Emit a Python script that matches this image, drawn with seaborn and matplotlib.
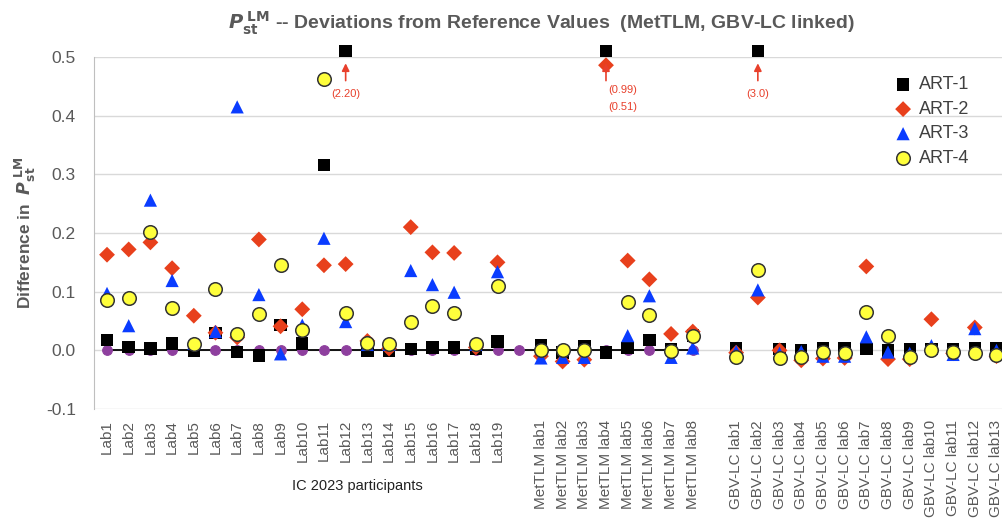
import numpy as np
import pandas as pd
import matplotlib
matplotlib.use("Agg")
import matplotlib.pyplot as plt
import seaborn as sns

nan = np.nan

lab_names = [f"Lab{i}" for i in range(1, 20)]
met_names = [f"MetTLM lab{i}" for i in range(1, 9)]
gbv_names = [f"GBV-LC lab{i}" for i in range(1, 14)]
categories = lab_names + [" "] + met_names + ["  "] + gbv_names

art1 = [0.018, 0.006, 0.003, 0.012, 0.000, 0.030, -0.003, -0.009, 0.043, 0.012,
        0.316, nan, 0.000, -0.001, 0.002, 0.005, 0.005, 0.002, 0.015,
        nan,
        0.008, -0.004, 0.007, -0.004, 0.004, 0.018, 0.002, 0.025,
        nan,
        0.004, nan, 0.002, 0.000, 0.004, 0.004, 0.002, 0.000, 0.002, 0.002,
        0.002, 0.004, 0.004]
art2 = [0.163, 0.172, 0.184, 0.140, 0.059, 0.030, 0.022, 0.189, 0.041, 0.070,
        0.145, 0.147, 0.016, 0.003, 0.210, 0.167, 0.166, 0.005, 0.150,
        nan,
        -0.010, -0.019, -0.016, 0.486, 0.153, 0.121, 0.028, 0.032,
        nan,
        -0.004, 0.090, 0.000, -0.017, -0.014, -0.013, 0.143, -0.015, -0.015,
        0.053, -0.005, 0.039, -0.010]
art3 = [0.097, 0.042, 0.256, 0.119, 0.012, 0.032, 0.415, 0.095, -0.006, 0.043,
        0.191, 0.049, 0.010, 0.010, 0.136, 0.112, 0.099, 0.010, 0.134,
        nan,
        -0.013, -0.012, -0.012, nan, 0.025, 0.093, -0.012, 0.004,
        nan,
        -0.002, 0.103, -0.005, -0.002, -0.010, -0.010, 0.023, -0.003, -0.005,
        0.008, -0.007, 0.037, 0.000]
art4 = [0.086, 0.089, 0.201, 0.073, 0.011, 0.105, 0.028, 0.062, 0.146, 0.034,
        0.462, 0.063, 0.012, 0.011, 0.048, 0.076, 0.063, 0.011, 0.110,
        nan,
        0.000, 0.000, 0.000, nan, 0.083, 0.060, -0.001, 0.025,
        nan,
        -0.012, 0.137, -0.013, -0.012, -0.002, -0.005, 0.066, 0.025, -0.011,
        0.001, -0.003, -0.005, -0.008]

# reference line (zero deviation) for Lab + MetTLM participants
ref_values = [0.0] * 28

# values beyond the axis: drawn at the top with the true value noted
offscale_cats = ["Lab12", "MetTLM lab4", "GBV-LC lab2"]
offscale_y = [0.51, 0.51, 0.51]
offscale_notes = [["(2.20)"], ["(0.99)", "(0.51)"], ["(3.0)"]]

series = {"ART-1": art1, "ART-2": art2, "ART-3": art3, "ART-4": art4}
styles = {
    "ART-1": dict(marker="s", color="black", s=80, edgecolor="none"),
    "ART-2": dict(marker="D", color="#e8401c", s=65, edgecolor="none"),
    "ART-3": dict(marker="^", color="#0a3cff", s=90, edgecolor="none"),
    "ART-4": dict(marker="o", color="#ffff3c", s=95, edgecolor="#333333", linewidth=1.1),
}

rows = []
for name, vals in series.items():
    for cat, v in zip(categories, vals):
        rows.append({"cat": cat, "pos": categories.index(cat), "value": v, "series": name})
df = pd.DataFrame(rows).dropna()

sns.set_style("white")
plt.rcParams["font.family"] = ["Liberation Sans", "DejaVu Sans"]
plt.rcParams["mathtext.fontset"] = "dejavusans"

fig = plt.figure(figsize=(10.03, 5.2), dpi=100)
ax = fig.add_axes([94 / 1003, 1 - 409 / 520, 1 - 94 / 1003, (409 - 57) / 520])

ref = pd.DataFrame({"pos": range(len(ref_values)), "value": ref_values})
sns.lineplot(data=ref, x="pos", y="value", color="black", lw=1.3, marker="o",
             markersize=7, markerfacecolor="#8e3f9e", markeredgecolor="#8e3f9e",
             ax=ax, zorder=2)

for name in series:
    sub = df[df["series"] == name]
    sns.scatterplot(data=sub, x="pos", y="value", label=name, ax=ax, zorder=3,
                    **styles[name])

off = pd.DataFrame({"pos": [categories.index(c) for c in offscale_cats], "value": offscale_y})
sns.scatterplot(data=off, x="pos", y="value", marker="s", color="black", s=80,
                edgecolor="none", ax=ax, zorder=3, clip_on=False, legend=False)

red = "#e8402c"
for c, notes in zip(offscale_cats, offscale_notes):
    p = categories.index(c)
    ax.annotate("", xy=(p, 0.494), xytext=(p, 0.455),
                arrowprops=dict(arrowstyle="-|>", color=red, lw=1.2, mutation_scale=11))
    if len(notes) == 1:
        ax.text(p, 0.437, notes[0], ha="center", va="center", color=red, fontsize=8)
    else:
        ax.text(p + 0.1, 0.443, notes[0], ha="left", va="center", color=red, fontsize=8)
        ax.text(p + 0.1, 0.415, notes[1], ha="left", va="center", color=red, fontsize=8)

ax.set_xlim(-0.6, 41.3)
ax.set_ylim(-0.1, 0.5)
ax.set_yticks([-0.1, 0.0, 0.1, 0.2, 0.3, 0.4, 0.5])
ax.set_yticklabels([f"{t:.1f}" for t in ax.get_yticks()], fontsize=12.5, color="#595959")
ax.set_xticks(range(len(categories)))
ax.set_xticklabels(categories, rotation=90, fontsize=11, color="#595959")
ax.tick_params(axis="x", length=0, pad=8)
ax.tick_params(axis="y", length=0, pad=13)
ax.grid(axis="y", color="#d9d9d9", lw=1)
for side in ["top", "right", "bottom"]:
    ax.spines[side].set_visible(False)
ax.spines["left"].set_color("#bfbfbf")
ax.set_xlabel("")
ax.set_ylabel(r"Difference in  $\boldsymbol{P}_{\mathbf{st}}^{\ \mathbf{LM}}$", fontsize=12.5,
              fontweight="bold", color="#595959", labelpad=6)

fig.text(0.54, 0.955,
         r"$\boldsymbol{P}_{\mathbf{st}}^{\ \mathbf{LM}}$ -- Deviations from Reference Values  (MetTLM, GBV-LC linked)",
         ha="center", va="center", fontsize=14, fontweight="bold", color="#595959")
fig.text(357 / 1003, 1 - 486 / 520, "IC 2023 participants", ha="center", va="center",
         fontsize=10.5, color="#222222")

ax.legend(loc="upper left", bbox_to_anchor=(876 / 1003, 1 - 60 / 520),
          bbox_transform=fig.transFigure, frameon=False, fontsize=13,
          labelspacing=0.42, handletextpad=0.3, handlelength=1.2, labelcolor="#404040")

fig.savefig("out.png", dpi=100)
